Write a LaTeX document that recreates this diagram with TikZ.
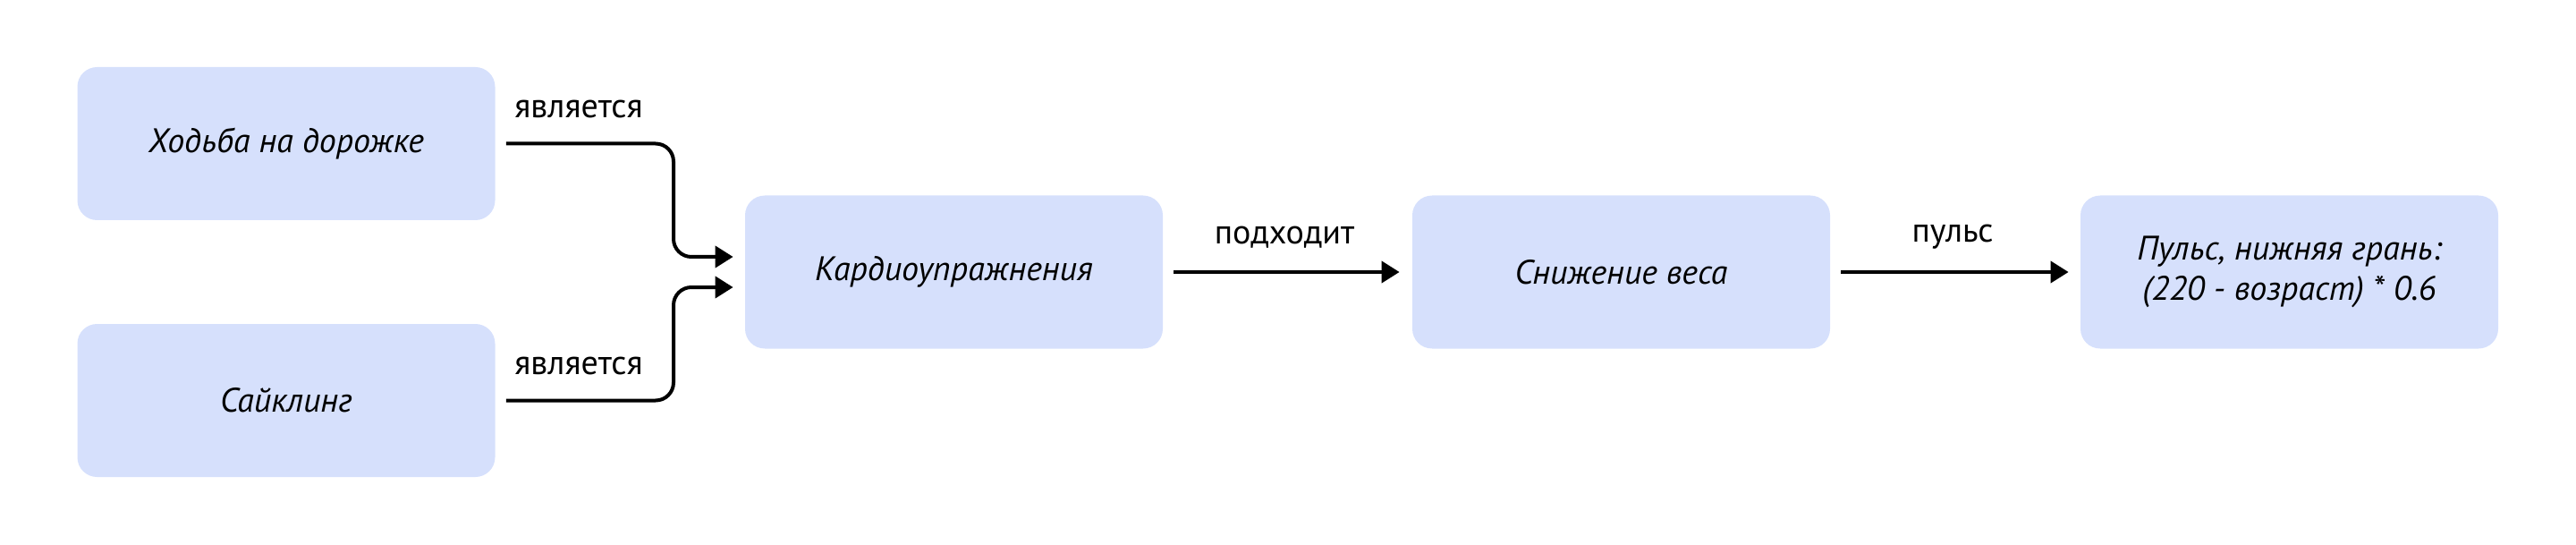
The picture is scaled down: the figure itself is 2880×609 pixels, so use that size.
\documentclass[tikz,border=0pt]{standalone}
\usepackage{fontspec}
\setmainfont{PT Sans}
\usetikzlibrary{arrows.meta}
\definecolor{boxfill}{RGB}{214,224,252}
\tikzset{
  x=0.5pt, y=-0.5pt,
  box/.style={rectangle, rounded corners=11pt, fill=boxfill, minimum width=233.5pt, minimum height=85.5pt, font=\fontsize{19}{22.5}\selectfont\itshape, align=center, inner sep=0pt},
  conn/.style={line width=2pt, -{Triangle[length=10pt,width=12pt]}, rounded corners=10pt},
  lbl/.style={font=\fontsize{19}{22.5}\selectfont, inner sep=0pt}
}
\begin{document}
\begin{tikzpicture}
\useasboundingbox (0,0) rectangle (2880,609);
\node[box] (A) at (320,160.5) {Ходьба на дорожке};
\node[box] (B) at (320,447.5) {Сайклинг};
\node[box] (C) at (1066.5,304) {Кардиоупражнения};
\node[box] (D) at (1812.5,304) {Снижение веса};
\node[box] (E) at (2559.5,304) {Пульс, нижняя грань:\\(220 - возраст) * 0.6};
\coordinate (ka) at (753,160.5);
\coordinate (kb) at (753,447.5);
\draw[conn] ([xshift=6pt]A.east) -- (ka) |- ([xshift=-6.5pt,yshift=8.5pt]C.west);
\draw[conn] ([xshift=6pt]B.east) -- (kb) |- ([xshift=-6.5pt,yshift=-8.5pt]C.west);
\draw[conn] ([xshift=6pt]C.east) -- ([xshift=-7pt]D.west);
\draw[conn] ([xshift=6pt]D.east) -- ([xshift=-6.5pt]E.west);
\node[lbl] (l1) at (647,122) {является};
\node[lbl] (l2) at (647,409) {является};
\node[lbl] (l3) at (1436,265) {подходит};
\node[lbl] (l4) at (2183,265) {пульс};
\end{tikzpicture}
\end{document}
